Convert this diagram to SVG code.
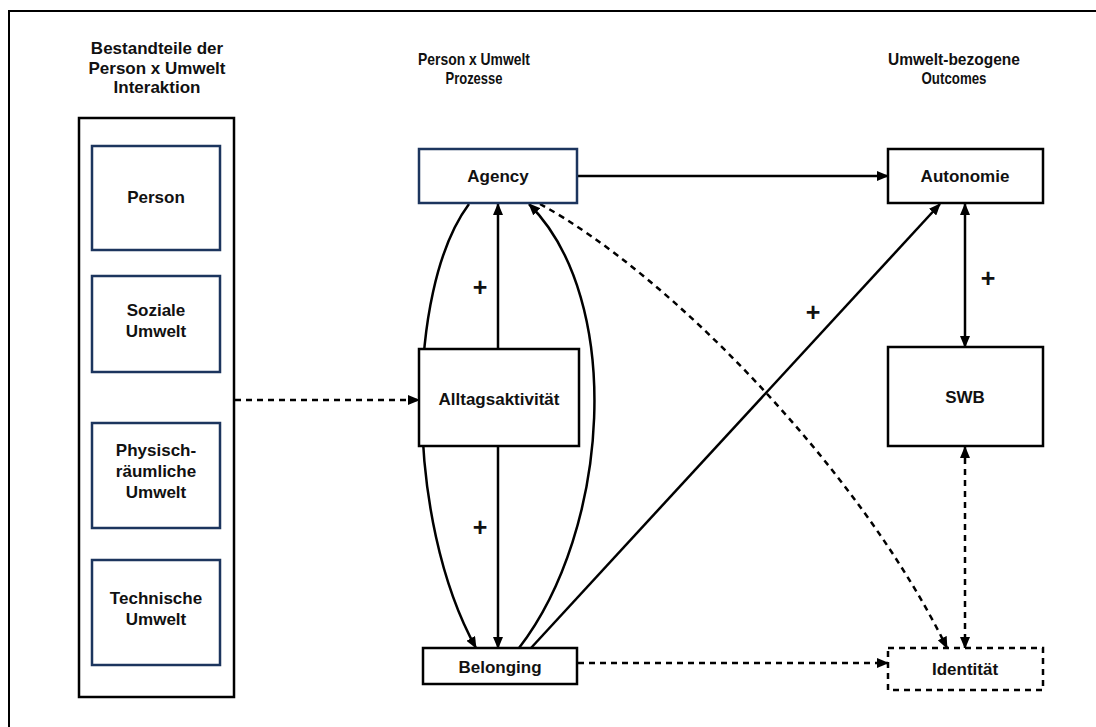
<svg xmlns="http://www.w3.org/2000/svg" width="1096" height="727" viewBox="0 0 1096 727">
  <defs>
    <style>
      text { font-family: "Liberation Sans", Arial, Helvetica, sans-serif; font-weight: bold; fill: #111; text-anchor: middle; }
      .lbl { font-size: 17px; }
      .hd { font-size: 16.5px; }
      .plus { font-size: 25px; }
      .box { fill: #fff; stroke: #000; stroke-width: 2.5; }
      .navy { fill: #fff; stroke: #1c355e; stroke-width: 2.5; }
      .dbox { fill: #fff; stroke: #000; stroke-width: 2.5; stroke-dasharray: 6 5; }
      .edge { fill: none; stroke: #000; stroke-width: 2.5; }
      .dash { stroke-dasharray: 6 5; }
    </style>
    <marker id="arr" viewBox="0 0 12 10" refX="11" refY="5" markerWidth="12" markerHeight="10" markerUnits="userSpaceOnUse" orient="auto-start-reverse">
      <path d="M0,0 L12,5 L0,10 z" fill="#000"/>
    </marker>
  </defs>

  <!-- outer frame -->
  <rect x="9" y="11" width="1100" height="730" fill="#fff" stroke="#000" stroke-width="2"/>

  <!-- column headings (middle and right ones set narrow) -->
  <g id="headings">
    <text class="lbl" x="157" y="54">Bestandteile der</text>
    <text class="lbl" x="157" y="74">Person x Umwelt</text>
    <text class="lbl" x="157" y="93">Interaktion</text>
    <text class="hd" x="474" y="65" textLength="112" lengthAdjust="spacingAndGlyphs">Person x Umwelt</text>
    <text class="hd" x="474" y="84" textLength="57" lengthAdjust="spacingAndGlyphs">Prozesse</text>
    <text class="hd" x="954" y="65" textLength="132" lengthAdjust="spacingAndGlyphs">Umwelt-bezogene</text>
    <text class="hd" x="954" y="84" textLength="65" lengthAdjust="spacingAndGlyphs">Outcomes</text>
  </g>

  <!-- connectors -->
  <g id="connectors">
    <!-- components -> daily activity -->
    <path class="edge dash" d="M235,400 L419,400" marker-end="url(#arr)"/>
    <!-- Agency -> Autonomie -->
    <path class="edge" d="M577,176 L888,176" marker-end="url(#arr)"/>
    <!-- Alltagsaktivität -> Agency -->
    <path class="edge" d="M498,349 L498,204" marker-end="url(#arr)"/>
    <!-- Alltagsaktivität -> Belonging -->
    <path class="edge" d="M498,446 L498,648" marker-end="url(#arr)"/>
    <!-- Agency -> Belonging (left arc) -->
    <path class="edge" d="M469,204 C405,290 405,520 476,648" marker-end="url(#arr)"/>
    <!-- Belonging -> Agency (right arc) -->
    <path class="edge" d="M519,648 C610,530 625,300 529,204" marker-end="url(#arr)"/>
    <!-- Belonging -> Autonomie -->
    <path class="edge" d="M531,648 L940,204" marker-end="url(#arr)"/>
    <!-- Agency -> Identität -->
    <path class="edge dash" d="M540,204 C670,275 860,470 947,648" marker-end="url(#arr)"/>
    <!-- Autonomie <-> SWB -->
    <path class="edge" d="M965,204 L965,347" marker-start="url(#arr)" marker-end="url(#arr)"/>
    <!-- SWB <-> Identität -->
    <path class="edge dash" d="M965,447 L965,648" marker-start="url(#arr)" marker-end="url(#arr)"/>
    <!-- Belonging -> Identität -->
    <path class="edge dash" d="M578,663 L888,663" marker-end="url(#arr)"/>
  </g>

  <!-- signs -->
  <g id="signs">
    <text class="plus" x="480" y="296">+</text>
    <text class="plus" x="480" y="536">+</text>
    <text class="plus" x="813" y="321">+</text>
    <text class="plus" x="988" y="287">+</text>
  </g>

  <!-- component column -->
  <g id="components">
    <rect class="box" x="79" y="118" width="155" height="579"/>
    <g id="person">
      <rect class="navy" x="92" y="146" width="128" height="104"/>
      <text class="lbl" x="156" y="203">Person</text>
    </g>
    <g id="soziale-umwelt">
      <rect class="navy" x="92" y="276" width="128" height="96"/>
      <text class="lbl" x="156" y="316">Soziale</text>
      <text class="lbl" x="156" y="337">Umwelt</text>
    </g>
    <g id="physisch-raeumliche-umwelt">
      <rect class="navy" x="92" y="423" width="128" height="105"/>
      <text class="lbl" x="156" y="456">Physisch-</text>
      <text class="lbl" x="156" y="477">räumliche</text>
      <text class="lbl" x="156" y="498">Umwelt</text>
    </g>
    <g id="technische-umwelt">
      <rect class="navy" x="92" y="560" width="128" height="105"/>
      <text class="lbl" x="156" y="604">Technische</text>
      <text class="lbl" x="156" y="625">Umwelt</text>
    </g>
  </g>

  <!-- process nodes -->
  <g id="agency">
    <rect class="navy" x="419" y="149" width="158" height="54"/>
    <text class="lbl" x="498" y="182">Agency</text>
  </g>
  <g id="alltagsaktivitaet">
    <rect class="box" x="419" y="349" width="160" height="97"/>
    <text class="lbl" x="499" y="405">Alltagsaktivität</text>
  </g>
  <g id="belonging">
    <rect class="box" x="423" y="648" width="154" height="36"/>
    <text class="lbl" x="500" y="673">Belonging</text>
  </g>

  <!-- outcome nodes -->
  <g id="autonomie">
    <rect class="box" x="888" y="149" width="155" height="54"/>
    <text class="lbl" x="965" y="182">Autonomie</text>
  </g>
  <g id="swb">
    <rect class="box" x="888" y="347" width="155" height="99"/>
    <text class="lbl" x="965" y="403">SWB</text>
  </g>
  <g id="identitaet">
    <rect class="dbox" x="888" y="648" width="155" height="42"/>
    <text class="lbl" x="965" y="675">Identität</text>
  </g>
</svg>
